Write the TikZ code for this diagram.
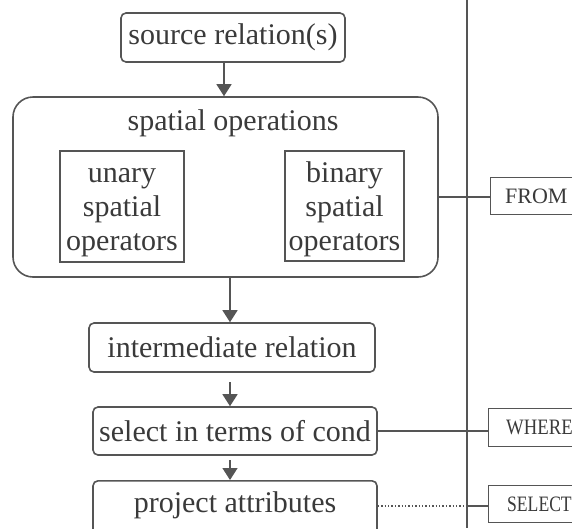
\documentclass[tikz,border=0pt]{standalone}
\usepackage{fontspec}
\setmainfont{Liberation Serif}
\usetikzlibrary{arrows.meta}
\definecolor{ink}{HTML}{555555}
\definecolor{txt}{HTML}{3A3A3A}
\tikzset{
  stepbox/.style={draw=ink, line width=1.6pt, rounded corners=5pt, inner sep=0pt, text=txt},
  opbox/.style={draw=ink, line width=1.4pt, inner sep=0pt, text=txt, align=center},
  kwbox/.style={draw=ink, line width=1.4pt, inner sep=0pt, text=txt, anchor=north west},
  flow/.style={draw=ink, line width=1.4pt, -{Triangle[width=15pt,length=12pt]}},
  link/.style={draw=ink, line width=1.4pt},
  optext/.style={text=txt, align=center, font=\fontsize{30}{34}\selectfont},
}
\begin{document}
\begin{tikzpicture}[x=1pt,y=-1pt]
\fontsize{30}{34}\selectfont
\useasboundingbox (0,0) rectangle (572,528);
\clip (0,0) rectangle (572,528);

% main processing chain
\node[stepbox, minimum width=224pt, minimum height=49pt] (src) at (233,37.5) {source relation(s)};
\node[draw=ink, line width=1.6pt, rounded corners=20pt, minimum width=425pt, minimum height=180pt, inner sep=0pt] (spat) at (225.5,187) {};
\node[text=txt] (spattitle) at (233,123) {spatial operations};
\node[opbox, minimum width=124pt, minimum height=111pt] (unary) at (122,206.5) {};
\node[optext] (unarytext) at (122,208) {\strut unary\\spatial\\operators};
\node[opbox, minimum width=119pt, minimum height=110pt] (binary) at (344.5,206) {};
\node[optext] (binarytext) at (344.5,208) {\strut binary\\spatial\\operators};
\node[stepbox, minimum width=286pt, minimum height=49pt] (inter) at (232,347.5) {intermediate relation};
\node[stepbox, minimum width=284pt, minimum height=48pt] (sel) at (235,431) {select in terms of cond};
\node[stepbox, minimum width=284pt, minimum height=60pt, anchor=north] (proj) at (235,480) {};
\node[text=txt] (projtext) at (235,505) {project attributes};

% arrows between the steps
\draw[flow] (src.south -| 224,0) -- (spat.north -| 224,0);
\draw[flow] (spat.south -| 230,0) -- (inter.north -| 230,0);
\coordinate (a1) at (230,382);
\draw[flow] (a1) -- (sel.north -| a1);
\coordinate (a2) at (230,460);
\draw[flow] (a2) -- (proj.north -| a2);

% SQL clause column
\coordinate (vtop) at (467,0);
\coordinate (vbot) at (467,528);
\draw[link] (vtop) -- (vbot);

\node[kwbox, minimum width=100pt, minimum height=37pt] (from) at (490,177) {};
\node[text=txt, anchor=west, font=\fontsize{22}{24}\selectfont] (fromtext) at (495,196) {FROM};
\node[kwbox, minimum width=100pt, minimum height=38pt] (where) at (488,408) {};
\node[text=txt, anchor=west, font=\fontsize{22}{24}\selectfont] (wheretext) at (496,427) {\scalebox{0.85}[1]{WHERE}};
\node[kwbox, minimum width=100pt, minimum height=37pt] (select) at (488,485) {};
\node[text=txt, anchor=west, font=\fontsize{22}{24}\selectfont] (selecttext) at (497,504) {\scalebox{0.8}[1]{SELECT}};

% links from the steps to the clauses
\draw[link] (spat.east |- 0,197) -- (from.west |- 0,197);
\draw[link] (sel.east) -- (where.west |- sel.east);
\draw[link, dotted, line width=1.8pt] (proj.east |- 0,506) -- (467,506);
\draw[link] (467,506) -- (select.west |- 0,506);
\end{tikzpicture}
\end{document}
